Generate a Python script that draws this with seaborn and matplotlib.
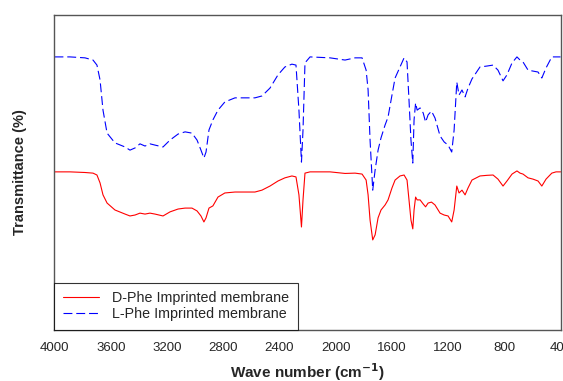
import seaborn as sns
import matplotlib.pyplot as plt
import pandas as pd
import numpy as np

# wavenumbers (cm-1), shared by both spectra
wavenumber = [4000, 3890, 3783, 3726, 3698, 3676, 3655, 3626, 3570, 3498,
              3463, 3427, 3392, 3356, 3321, 3285, 3228, 3178, 3121, 3071,
              3022, 2986, 2958, 2937, 2922, 2901, 2873, 2837, 2788, 2716,
              2574, 2524, 2467, 2410, 2361, 2311, 2282, 2261, 2243, 2232,
              2218, 2182, 2040, 1933, 1862, 1812, 1783, 1769, 1755, 1736,
              1719, 1698, 1677, 1648, 1627, 1599, 1577, 1542, 1513, 1492,
              1478, 1464, 1451, 1442, 1431, 1420, 1399, 1377, 1360, 1342,
              1318, 1293, 1257, 1228, 1200, 1174, 1157, 1138, 1122, 1101,
              1079, 1058, 1030, 973, 923, 880, 845, 809, 781, 745,
              710, 688, 667, 631, 596, 560, 533, 503, 462, 432, 400]

d_phe = [50.2, 50.2, 50.0, 49.8, 49.2, 46.7, 42.9, 40.3, 38.1, 36.8,
         36.2, 36.5, 37.1, 36.8, 37.1, 36.8, 36.2, 37.5, 38.4, 38.7,
         38.7, 37.8, 36.2, 34.3, 35.6, 38.7, 39.4, 42.2, 43.5, 43.8,
         43.8, 44.4, 45.7, 47.3, 48.3, 48.9, 48.6, 42.9, 32.7, 41.3,
         49.8, 50.2, 50.2, 49.7, 49.8, 49.5, 47.6, 42.9, 34.9, 28.6,
         30.2, 35.6, 38.1, 39.7, 41.3, 45.1, 47.6, 48.9, 49.2, 47.6,
         41.3, 34.9, 32.1, 38.1, 42.2, 41.3, 41.3, 40.0, 39.1, 40.3,
         40.6, 39.7, 37.1, 36.5, 36.2, 34.3, 38.1, 45.7, 43.5, 44.4,
         42.9, 45.1, 47.6, 48.9, 49.1, 49.2, 47.9, 45.7, 47.3, 49.5,
         50.5, 49.8, 49.5, 48.3, 47.9, 47.3, 45.7, 47.9, 49.8, 50.2, 50.2]

l_phe = [86.7, 86.7, 86.4, 85.7, 84.1, 79.4, 69.8, 62.5, 59.4, 58.1,
         57.1, 57.8, 59.1, 58.4, 59.1, 58.7, 58.1, 60.3, 62.2, 62.9,
         62.5, 60.3, 57.1, 54.6, 56.5, 63.5, 66.7, 69.8, 72.4, 73.7,
         73.7, 74.3, 76.8, 81.0, 83.5, 84.4, 84.1, 69.8, 53.3, 63.5,
         84.8, 86.7, 86.4, 85.7, 86.4, 86.4, 82.5, 76.2, 60.3, 44.4,
         50.8, 57.1, 61.0, 65.1, 67.6, 74.6, 80.0, 83.5, 86.4, 85.1,
         73.0, 60.3, 53.0, 66.7, 72.1, 69.8, 70.5, 68.9, 66.0, 68.3,
         69.5, 67.3, 61.6, 59.7, 58.7, 56.5, 63.5, 78.7, 74.6, 76.2,
         74.0, 76.8, 79.7, 83.5, 83.8, 84.1, 82.5, 79.1, 81.0, 84.8,
         86.7, 85.7, 85.1, 82.5, 82.2, 81.9, 80.0, 83.2, 86.7, 86.7, 86.7]

labels = ["D-Phe Imprinted membrane", "L-Phe Imprinted membrane"]
xticks = [4000, 3600, 3200, 2800, 2400, 2000, 1600, 1200, 800, 400]

df = pd.DataFrame({
    "wn": wavenumber * 2,
    "T": d_phe + l_phe,
    "sample": [labels[0]] * len(wavenumber) + [labels[1]] * len(wavenumber),
})

sns.set_style("white")
plt.rcParams["font.family"] = ["Liberation Sans", "DejaVu Sans"]

fig = plt.figure(figsize=(5.63, 3.81), dpi=100)
ax = fig.add_axes([0.0968, 0.1339, 0.8988, 0.8267])

sns.lineplot(data=df, x="wn", y="T", hue="sample", style="sample",
             palette=["#ff0000", "#0000ff"],
             dashes=[(None, None), (8, 3.5)], sort=False,
             linewidth=0.8, ax=ax)

ax.set_xlim(4000, 400)
ax.set_ylim(0, 100)
ax.set_xticks(xticks)
ax.set_yticks([])
ax.tick_params(axis="x", length=0, labelsize=9.5, pad=9)
for s in ax.spines.values():
    s.set_color("#555555")
    s.set_linewidth(1.0)

ax.set_xlabel("Wave number (cm$^{\\mathbf{-1}}$)", fontsize=11,
              fontweight="bold", labelpad=5)
ax.set_ylabel("Transmittance (%)", fontsize=10.5, fontweight="bold",
              labelpad=20)

leg = ax.legend(loc="lower left", borderaxespad=0, fontsize=10.3,
                frameon=True, fancybox=False, handlelength=2.5,
                borderpad=0.6, labelspacing=0.15, handletextpad=0.95)
leg.get_frame().set_edgecolor("black")
leg.get_frame().set_linewidth(0.8)

fig.savefig("out.png", dpi=100)
